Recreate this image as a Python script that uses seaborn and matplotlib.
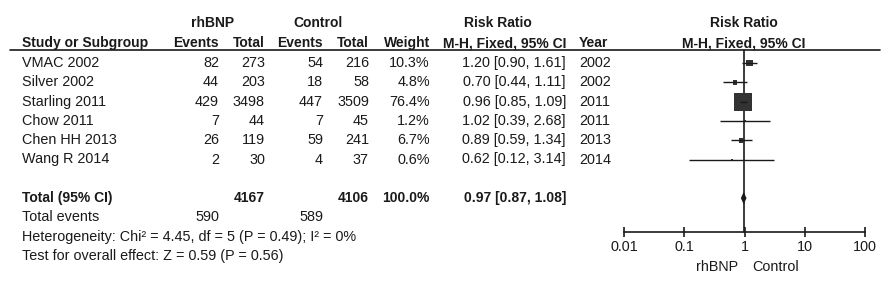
import numpy as np
import pandas as pd
import matplotlib.pyplot as plt
import seaborn as sns

# study level data
studies = ["VMAC 2002", "Silver 2002", "Starling 2011", "Chow 2011", "Chen HH 2013", "Wang R 2014"]
events_bnp = [82, 44, 429, 7, 26, 2]
total_bnp = [273, 203, 3498, 44, 119, 30]
events_ctrl = [54, 18, 447, 7, 59, 4]
total_ctrl = [216, 58, 3509, 45, 241, 37]
weights = [10.3, 4.8, 76.4, 1.2, 6.7, 0.6]
rr = [1.20, 0.70, 0.96, 1.02, 0.89, 0.62]
rr_lo = [0.90, 0.44, 0.85, 0.39, 0.59, 0.12]
rr_hi = [1.61, 1.11, 1.09, 2.68, 1.34, 3.14]
years = [2002, 2002, 2011, 2011, 2013, 2014]

# pooled result
pooled = [0.97, 0.87, 1.08]
pooled_totals = [4167, 4106]
pooled_events = [590, 589]
hetero_text = "Heterogeneity: Chi\u00b2 = 4.45, df = 5 (P = 0.49); I\u00b2 = 0%"
overall_text = "Test for overall effect: Z = 0.59 (P = 0.56)"
ticks = [0.01, 0.1, 1, 10, 100]
tick_labels = ["0.01", "0.1", "1", "10", "100"]

df = pd.DataFrame({"study": studies, "rr": rr, "lo": rr_lo, "hi": rr_hi,
                   "weight": weights, "row": np.arange(len(studies))})

sns.set_style("white")
plt.rcParams["font.family"] = ["Liberation Sans", "DejaVu Sans"]
plt.rcParams["font.size"] = 10.4
ink = "#1a1a1a"

W, H = 886, 289
fig = plt.figure(figsize=(W / 100, H / 100), dpi=100)
fig.patch.set_facecolor("white")

# table layer in pixel coordinates
tab = fig.add_axes([0, 0, 1, 1])
tab.set_xlim(0, W)
tab.set_ylim(H, 0)
tab.axis("off")

y0, dy = 63, 19.3
def ypix(i):
    return y0 + i * dy

def txt(x, y, s, ha="left", bold=False):
    tab.text(x, y, s, ha=ha, va="center", color=ink,
             fontweight="bold" if bold else "normal",
             fontsize=10 if bold else 10.4)

# headers
txt(213, 23, "rhBNP", ha="center", bold=True)
txt(318, 23, "Control", ha="center", bold=True)
txt(498, 23, "Risk Ratio", ha="center", bold=True)
txt(744, 23, "Risk Ratio", ha="center", bold=True)
txt(22, 43, "Study or Subgroup", bold=True)
txt(219, 43, "Events", ha="right", bold=True)
txt(265, 43, "Total", ha="right", bold=True)
txt(323, 43, "Events", ha="right", bold=True)
txt(369, 43, "Total", ha="right", bold=True)
txt(430, 43, "Weight", ha="right", bold=True)
txt(566, 43, "M-H, Fixed, 95% CI", ha="right", bold=True)
txt(579, 43, "Year", bold=True)
txt(744, 43, "M-H, Fixed, 95% CI", ha="center", bold=True)
tab.plot([10, 880], [50, 50], color=ink, lw=1.2)

for i in range(len(studies)):
    y = ypix(i)
    txt(22, y, studies[i])
    txt(219, y, str(events_bnp[i]), ha="right")
    txt(265, y, str(total_bnp[i]), ha="right")
    txt(323, y, str(events_ctrl[i]), ha="right")
    txt(369, y, str(total_ctrl[i]), ha="right")
    txt(430, y, f"{weights[i]:.1f}%", ha="right")
    txt(566, y, f"{rr[i]:.2f} [{rr_lo[i]:.2f}, {rr_hi[i]:.2f}]", ha="right")
    txt(579, y, str(years[i]))

tot_row = len(studies) + 1
y = ypix(tot_row)
txt(22, y, "Total (95% CI)", bold=True)
txt(265, y, str(pooled_totals[0]), ha="right", bold=True)
txt(369, y, str(pooled_totals[1]), ha="right", bold=True)
txt(430, y, "100.0%", ha="right", bold=True)
txt(566, y, f"{pooled[0]:.2f} [{pooled[1]:.2f}, {pooled[2]:.2f}]", ha="right", bold=True)
txt(22, ypix(tot_row + 1), "Total events")
txt(219, ypix(tot_row + 1), str(pooled_events[0]), ha="right")
txt(323, ypix(tot_row + 1), str(pooled_events[1]), ha="right")
txt(22, ypix(tot_row + 2), hetero_text)
txt(22, ypix(tot_row + 3), overall_text)

# forest panel
fx0, fx1, fy_top, fy_axis = 624, 865, 50, 232
x_one = fx0 + (fx1 - fx0) * (np.log10(1) + 2) / 4
# line of no effect
tab.plot([x_one, x_one], [fy_top, fy_axis], color=ink, lw=1.2)

fa = fig.add_axes([fx0 / W, 1 - fy_axis / H, (fx1 - fx0) / W, (fy_axis - fy_top) / H])
fa.patch.set_alpha(0)

fa.hlines(df["row"], df["lo"], df["hi"], color=ink, lw=1)
sns.scatterplot(data=df, x="rr", y="row", size="weight", sizes=(0, 170),
                size_norm=(0, max(weights)), marker="s", color="#333333",
                linewidth=0, legend=False, ax=fa)
fa.fill([pooled[1], pooled[0], pooled[2], pooled[0]],
        [tot_row, tot_row - 0.32, tot_row, tot_row + 0.32], color=ink, lw=0)

fa.set_xscale("log")
fa.set_xlim(0.01, 100)
fa.set_ylim((fy_axis - y0) / dy, (fy_top - y0) / dy)

sns.despine(ax=fa, left=True)
fa.spines["bottom"].set_color(ink)
fa.spines["bottom"].set_linewidth(1.2)
fa.set_xticks(ticks)
fa.set_xticklabels(tick_labels)
fa.minorticks_off()
fa.tick_params(axis="x", bottom=True, direction="inout", length=7, width=1.2,
               color=ink, labelcolor=ink, labelsize=10.4, pad=2)
fa.set_yticks([])
fa.set_xlabel("")
fa.set_ylabel("")

txt(x_one - 6, 267, "rhBNP", ha="right")
txt(x_one + 8, 267, "Control")

fig.savefig("out.png", dpi=100, facecolor="white")
